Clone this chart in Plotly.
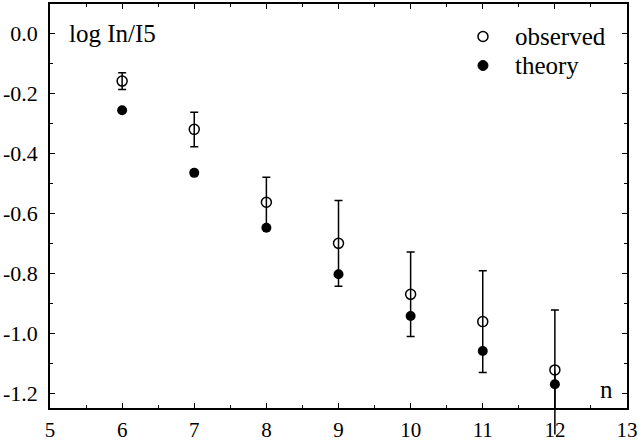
import plotly.graph_objects as go

n_vals = [6, 7, 8, 9, 10, 11, 12]
observed = [-0.160, -0.321, -0.564, -0.701, -0.871, -0.962, -1.123]
err_plus = [0.028, 0.057, 0.083, 0.143, 0.141, 0.170, 0.200]
err_minus = [0.028, 0.058, 0.083, 0.143, 0.141, 0.170, 0.215]
theory = [-0.257, -0.466, -0.649, -0.804, -0.943, -1.060, -1.171]

x_ticks = [5, 6, 7, 8, 9, 10, 11, 12, 13]
y_ticks = [0.0, -0.2, -0.4, -0.6, -0.8, -1.0, -1.2]
y_ticktext = ["0.0", "-0.2", "-0.4", "-0.6", "-0.8", "-1.0", "-1.2"]
series_names = ["observed", "theory"]

FONT = "Times New Roman"
Y_RANGE = [-1.25, 0.097]

fig = go.Figure()
fig.add_trace(go.Scatter(
    x=n_vals, y=observed, mode="markers", name=series_names[0],
    marker=dict(symbol="circle-open", size=10, color="black", line=dict(width=1.5, color="black")),
    error_y=dict(type="data", symmetric=False, array=err_plus, arrayminus=err_minus,
                 color="black", thickness=1.5, width=4),
    cliponaxis=False, showlegend=False,
))
fig.add_trace(go.Scatter(
    x=n_vals, y=theory, mode="markers", name=series_names[1],
    marker=dict(symbol="circle", size=10, color="black"),
    cliponaxis=False, showlegend=False,
))

# error bars that run past the bottom of the axes are not clipped in the reference:
for xv, yv, em in zip(n_vals, observed, err_minus):
    if yv - em < Y_RANGE[0]:
        fig.add_annotation(x=xv, y=yv - em, ax=xv, ay=yv, xref="x", yref="y",
                           axref="x", ayref="y", text="", showarrow=True,
                           arrowhead=0, arrowwidth=1.5, arrowcolor="black",
                           standoff=0, startstandoff=0)

axis_common = dict(
    showline=True, linecolor="black", linewidth=1.5, mirror="ticks",
    ticks="inside", ticklen=5, tickwidth=1.2, tickcolor="black",
    showgrid=False, zeroline=False, automargin=False,
)

fig.update_xaxes(range=[5, 13], tickvals=x_ticks, ticktext=[str(v) for v in x_ticks],
                 ticklabelstandoff=2,
                 tickfont=dict(family=FONT, size=21, color="black"),
                 minor=dict(ticks="inside", ticklen=3, dtick=0.5, tickcolor="black", tickwidth=1.2),
                 **axis_common)
fig.update_yaxes(range=Y_RANGE, tickvals=y_ticks, ticktext=y_ticktext,
                 ticklabelstandoff=6,
                 tickfont=dict(family=FONT, size=22, color="black"),
                 minor=dict(ticks="inside", ticklen=3, dtick=0.1, tickcolor="black", tickwidth=1.2),
                 **axis_common)

fig.add_annotation(text="log In/I5", xref="paper", yref="paper", x=0.029, y=0.928,
                   xanchor="left", yanchor="middle", showarrow=False,
                   font=dict(family=FONT, size=25, color="black"))
fig.add_annotation(text="n", xref="paper", yref="paper", x=0.98, y=0.045,
                   xanchor="right", yanchor="middle", showarrow=False,
                   font=dict(family=FONT, size=25, color="black"))

# legend (drawn as key symbols + labels in the top-right corner)
legend_y = [0.9196, 0.8478]
fig.add_shape(type="circle", xref="paper", yref="paper", xsizemode="pixel", ysizemode="pixel",
              xanchor=0.7504, yanchor=legend_y[0], x0=-5, x1=5, y0=-5, y1=5,
              line=dict(color="black", width=1.5), fillcolor="white")
fig.add_shape(type="circle", xref="paper", yref="paper", xsizemode="pixel", ysizemode="pixel",
              xanchor=0.7504, yanchor=legend_y[1], x0=-5, x1=5, y0=-5, y1=5,
              line=dict(color="black", width=1), fillcolor="black")
for name, ly in zip(series_names, legend_y):
    fig.add_annotation(text=name, xref="paper", yref="paper", x=0.802, y=ly,
                       xanchor="left", yanchor="middle", showarrow=False,
                       font=dict(family=FONT, size=25, color="black"))

fig.update_layout(
    template="none",
    width=639, height=443,
    margin=dict(l=50, r=12, t=4, b=35, autoexpand=False),
    plot_bgcolor="white", paper_bgcolor="white",
    font=dict(family=FONT, color="black"),
    showlegend=False,
)

fig.write_html("out.html", config={"displayModeBar": False},
               post_script="document.body.style.margin='0';document.body.style.padding='0';")
